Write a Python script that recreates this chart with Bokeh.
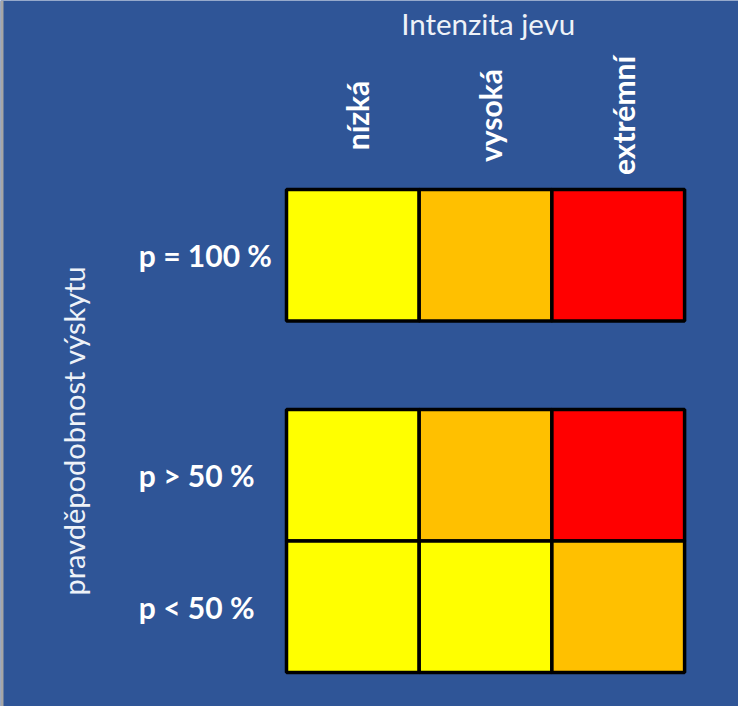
import numpy as np
from bokeh.plotting import figure
from bokeh.models import Range1d, ColumnDataSource, Span
from bokeh.core.properties import value
from bokeh.embed import file_html
from bokeh.resources import INLINE

# ---- data ----
columns = ["nízká", "vysoká", "extrémní"]
rows = ["p = 100 %", "p > 50 %", "p < 50 %"]
cell_colors = [
    ["#FFFF00", "#FFC000", "#FF0000"],
    ["#FFFF00", "#FFC000", "#FF0000"],
    ["#FFFF00", "#FFFF00", "#FFC000"],
]
x_title = "Intenzita jevu"
y_title = "pravděpodobnost výskytu"

# ---- layout (1 data unit = one cell) ----
W, H = 738, 706
CELL_W, CELL_H = 132.7, 131.5
X0, Y0 = 286.0, 189.0          # figure-pixel position of grid origin
GAP = 0.673                    # gap between first row and the others
row_top = [0.0, 1.0 + GAP, 2.0 + GAP]
BLUE = "#2F5597"
FONT = "Lato"

x_range = Range1d(-X0 / CELL_W, (W - X0) / CELL_W)
y_range = Range1d((H - Y0) / CELL_H, -Y0 / CELL_H)

p = figure(width=W, height=H, x_range=x_range, y_range=y_range,
           output_backend="svg", toolbar_location=None, min_border=0,
           background_fill_color=BLUE, border_fill_color=BLUE,
           outline_line_color=None)
p.axis.visible = False
p.grid.visible = False

# cells
cx, cy, cc = [], [], []
for i, r in enumerate(rows):
    for j, c in enumerate(columns):
        cx.append(j + 0.5)
        cy.append(row_top[i] + 0.5)
        cc.append(cell_colors[i][j])
p.rect(x="x", y="y", width=1, height=1, fill_color="c", line_color="black",
       line_width=3.5, source=ColumnDataSource(dict(x=cx, y=cy, c=cc)))

# column labels (rotated, bold)
p.text(x=[j + 0.535 for j in range(len(columns))],
       y=[-0.563] * len(columns), text=columns, angle=np.pi / 2,
       text_align="center", text_baseline="middle",
       text_font=value(FONT), text_font_style="bold",
       text_font_size="30px", text_color="white")

# row labels (bold, left aligned)
p.text(x=[-1.113] * len(rows), y=[t + 0.50 for t in row_top], text=rows,
       text_align="left", text_baseline="middle",
       text_font=value(FONT), text_font_style="bold",
       text_font_size="30px", text_color="white")

# titles
p.text(x=[1.52], y=[-1.262], text=[x_title], text_align="center",
       text_baseline="middle", text_font=value(FONT),
       text_font_size="29.5px", text_color="#EEF2F8")
p.text(x=[-1.605], y=[1.833], text=[y_title], angle=np.pi / 2,
       text_align="center", text_baseline="middle", text_font=value(FONT),
       text_font_size="29px", text_color="#EEF2F8")

# thin grey frame edge on the left
p.add_layout(Span(location=x_range.start + 1.5 / CELL_W, dimension="height",
                  line_color="#A6A6A6", line_width=3))

open("out.html", "w").write(file_html(p, INLINE))
